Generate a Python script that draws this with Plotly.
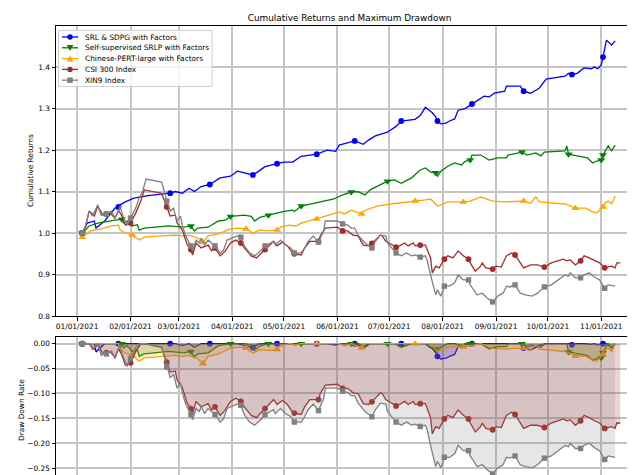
import numpy as np
import pandas as pd
import plotly.graph_objects as go

BASE = pd.Timestamp("2021-01-01")

# ---- data (day offsets from 2021-01-01, cumulative returns) ----
srl_day = [3, 6, 10, 11, 16, 22, 24, 25, 28, 33, 41, 54, 57, 61, 65, 68, 72, 77, 83, 89, 93, 95, 102, 105, 109, 116,
           120, 125, 130, 139, 145, 150, 152, 161, 166, 169, 173, 180, 185, 188, 192, 196, 199, 202, 206, 208, 209,
           211, 214, 216, 219, 221, 225, 229, 232, 236, 239, 242, 248, 249, 257, 259, 263, 268, 272, 283, 285, 287,
           290, 294, 298, 300, 302, 304, 305, 307, 310, 312]
srl_val = [1.0, 1.024, 1.029, 1.012, 1.029, 1.06, 1.063, 1.068, 1.075, 1.084, 1.09, 1.096, 1.10, 1.096, 1.108, 1.10,
           1.112, 1.117, 1.133, 1.137, 1.149, 1.147, 1.14, 1.148, 1.16, 1.167, 1.171, 1.171, 1.185, 1.19, 1.2, 1.197,
           1.212, 1.222, 1.214, 1.224, 1.234, 1.243, 1.257, 1.27, 1.272, 1.274, 1.283, 1.303, 1.29, 1.28, 1.27,
           1.263, 1.265, 1.27, 1.275, 1.296, 1.3, 1.311, 1.32, 1.33, 1.328, 1.337, 1.342, 1.354, 1.354, 1.342,
           1.337, 1.349, 1.371, 1.378, 1.385, 1.382, 1.385, 1.398, 1.396, 1.4, 1.396, 1.405, 1.424, 1.465, 1.453,
           1.463]
srl_mark = [3, 24, 54, 77, 102, 116, 139, 161, 188, 209, 229, 259, 287, 305]

srlp_day = [3, 7, 12, 18, 22, 26, 27, 29, 32, 35, 36, 39, 53, 62, 66, 68, 70, 76, 82, 86, 89, 97, 101, 103, 106, 111,
            116, 120, 125, 126, 130, 138, 142, 149, 153, 159, 163, 167, 170, 174, 180, 184, 188, 194, 199, 202, 205,
            208, 209, 211, 215, 219, 223, 225, 228, 229, 234, 239, 244, 249, 250, 258, 261, 266, 269, 271, 283, 284,
            285, 290, 296, 299, 301, 304, 305, 308, 310, 312]
srlp_val = [1.0, 1.017, 1.024, 1.029, 1.031, 1.033, 1.024, 1.029, 1.017, 1.02, 1.007, 1.012, 1.017, 1.014, 1.017,
            1.005, 1.012, 1.014, 1.029, 1.031, 1.04, 1.043, 1.04, 1.029, 1.038, 1.043, 1.048, 1.052, 1.055, 1.052,
            1.065, 1.072, 1.077, 1.082, 1.09, 1.099, 1.1, 1.092, 1.104, 1.113, 1.125, 1.128, 1.12, 1.133, 1.152,
            1.157, 1.147, 1.145, 1.137, 1.149, 1.161, 1.169, 1.164, 1.173, 1.176, 1.188, 1.188, 1.176, 1.181, 1.181,
            1.188, 1.195, 1.188, 1.193, 1.186, 1.195, 1.198, 1.21, 1.19, 1.186, 1.181, 1.169, 1.173, 1.176, 1.188,
            1.21, 1.198, 1.212]
srlp_mark = [3, 26, 66, 89, 111, 130, 159, 180, 208, 228, 258, 285, 304, 305]

pert_day = [3, 8, 14, 20, 24, 25, 28, 32, 36, 39, 49, 57, 61, 65, 70, 73, 76, 82, 89, 94, 98, 102, 106, 111, 116, 118,
            123, 127, 130, 139, 144, 152, 155, 159, 165, 167, 174, 182, 190, 196, 202, 205, 209, 215, 224, 228, 234,
            241, 248, 254, 259, 263, 266, 268, 277, 283, 289, 295, 298, 301, 303, 305, 306, 308, 310, 312]
pert_val = [0.99, 1.005, 1.01, 1.017, 1.019, 1.007, 1.0, 0.995, 0.983, 0.99, 0.993, 0.995, 0.993, 0.995, 0.988, 0.978,
            0.993, 0.998, 1.01, 1.012, 1.01, 1.0, 1.007, 1.005, 1.007, 1.014, 1.019, 1.017, 1.024, 1.034, 1.041,
            1.051, 1.046, 1.055, 1.046, 1.055, 1.065, 1.07, 1.075, 1.077, 1.08, 1.082, 1.065, 1.075, 1.075, 1.077,
            1.087, 1.077, 1.075, 1.077, 1.077, 1.072, 1.087, 1.075, 1.072, 1.07, 1.06, 1.06, 1.053, 1.048, 1.055,
            1.063, 1.072, 1.077, 1.07, 1.089]
pert_mark = [3, 32, 73, 98, 116, 139, 165, 196, 224, 259, 289, 305]

csi_day = [3, 5, 7, 10, 12, 15, 17, 19, 22, 24, 26, 28, 31, 34, 37, 39, 49, 51, 52, 54, 57, 58, 61, 64, 66, 67, 69, 72,
           76, 78, 80, 83, 86, 89, 92, 95, 97, 101, 104, 107, 109, 114, 116, 119, 122, 125, 126, 130, 132, 135, 140,
           141, 144, 151, 154, 157, 160, 163, 166, 169, 171, 173, 176, 177, 179, 185, 187, 190, 192, 195, 196, 199,
           202, 205, 206, 208, 210, 213, 215, 218, 221, 224, 227, 228, 231, 234, 235, 237, 241, 243, 246, 249, 252,
           254, 257, 259, 263, 267, 271, 275, 282, 284, 286, 289, 292, 294, 297, 300, 303, 306, 310, 312, 313, 315]
csi_val = [1.0, 1.017, 1.053, 1.041, 1.065, 1.043, 1.046, 1.048, 1.036, 1.055, 1.041, 1.019, 1.024, 1.048, 1.077,
           1.104, 1.096, 1.077, 1.063, 1.041, 1.043, 1.024, 1.007, 0.971, 0.96, 0.947, 0.976, 0.964, 0.971, 0.957,
           0.964, 0.945, 0.957, 0.976, 0.983, 0.976, 0.964, 0.945, 0.94, 0.952, 0.96, 0.98, 0.969, 0.978, 0.969,
           0.952, 0.95, 0.947, 0.964, 0.98, 0.98, 0.993, 1.012, 1.014, 1.005, 1.005, 0.995, 0.993, 0.971, 0.969,
           0.975, 0.983, 0.995, 0.993, 0.98, 0.966, 0.969, 0.976, 0.969, 0.976, 0.969, 0.971, 0.971, 0.94, 0.904,
           0.92, 0.916, 0.937, 0.945, 0.94, 0.957, 0.945, 0.937, 0.928, 0.908, 0.92, 0.928, 0.916, 0.913, 0.92,
           0.918, 0.945, 0.952, 0.947, 0.928, 0.916, 0.923, 0.923, 0.918, 0.928, 0.937, 0.933, 0.935, 0.923, 0.933,
           0.945, 0.94, 0.933, 0.928, 0.916, 0.92, 0.916, 0.928, 0.928]
csi_mark = [3, 17, 31, 52, 66, 80, 95, 109, 126, 140, 154, 171, 185, 199, 213, 227, 241, 254, 271, 292, 306]

xin9_day = [3, 5, 7, 9, 12, 14, 16, 17, 20, 22, 24, 25, 26, 28, 29, 31, 34, 36, 38, 40, 49, 51, 52, 54, 56, 57, 58, 60,
            61, 63, 66, 67, 69, 71, 72, 74, 76, 78, 80, 83, 85, 87, 90, 93, 95, 97, 100, 103, 105, 107, 109, 112, 114,
            115, 118, 121, 124, 126, 130, 132, 134, 137, 140, 143, 144, 151, 154, 157, 159, 161, 163, 167, 171, 173,
            176, 179, 180, 185, 188, 191, 194, 196, 199, 202, 203, 205, 208, 209, 211, 213, 216, 219, 221, 224, 227,
            228, 231, 232, 235, 238, 241, 244, 247, 249, 251, 254, 257, 260, 264, 267, 271, 275, 283, 285, 286, 289,
            292, 294, 297, 300, 303, 306, 308, 312]
xin9_val = [1.0, 1.017, 1.053, 1.041, 1.068, 1.043, 1.048, 1.046, 1.053, 1.036, 1.053, 1.065, 1.048, 1.029, 1.019,
            1.036, 1.06, 1.084, 1.1, 1.13, 1.123, 1.096, 1.077, 1.053, 1.06, 1.043, 1.029, 1.041, 1.019, 0.993, 0.969,
            0.957, 0.983, 0.976, 0.988, 0.971, 0.983, 0.976, 0.969, 0.952, 0.959, 0.983, 0.988, 0.993, 0.99, 0.969,
            0.952, 0.945, 0.952, 0.959, 0.969, 0.976, 0.98, 0.971, 0.983, 0.971, 0.964, 0.952, 0.952, 0.964, 0.98,
            0.993, 0.978, 1.005, 1.029, 1.029, 1.022, 1.019, 1.012, 1.012, 0.995, 0.976, 0.964, 0.98, 0.995, 0.993,
            0.976, 0.952, 0.945, 0.952, 0.945, 0.947, 0.942, 0.945, 0.935, 0.899, 0.851, 0.863, 0.848, 0.872, 0.872,
            0.88, 0.899, 0.887, 0.887, 0.875, 0.855, 0.851, 0.855, 0.843, 0.834, 0.848, 0.855, 0.872, 0.87, 0.875,
            0.855, 0.851, 0.848, 0.855, 0.87, 0.875, 0.899, 0.896, 0.904, 0.892, 0.892, 0.899, 0.904, 0.894, 0.887,
            0.867, 0.875, 0.872]
xin9_mark = [3, 17, 31, 52, 66, 80, 95, 109, 126, 140, 154, 171, 185, 199, 213, 227, 241, 254, 271, 292, 306]

month_ticks = ["2021-%02d-01" % m for m in range(1, 12)]
top_ticks = [0.8, 0.9, 1.0, 1.1, 1.2, 1.3, 1.4]
dd_ticks = [0.0, -0.05, -0.10, -0.15, -0.20, -0.25]

series = [
    ("SRL & SDPG with Factors", srl_day, srl_val, srl_mark, (0, 0, 255), "circle", 5.8),
    ("Self-supervised SRLP with Factors", srlp_day, srlp_val, srlp_mark, (0, 128, 0), "triangle-down", 7),
    ("Chinese-PERT-large with Factors", pert_day, pert_val, pert_mark, (255, 165, 0), "triangle-up", 7),
    ("CSI 300 Index", csi_day, csi_val, csi_mark, (165, 42, 42), "circle", 5.8),
    ("XIN9 Index", xin9_day, xin9_val, xin9_mark, (128, 128, 128), "square", 5.4),
]

FONT = "DejaVu Sans"
FS = 7.4
W, H = 635, 475
ML, MR, MT, MB = 48, 0, 18, 2
PW, PH = W - ML - MR, H - MT - MB
LW = 1.3


def pxx(p):  # pixel x -> paper x
    return (p - ML) / PW


def pxy(p):  # pixel y -> paper y
    return (H - MB - p) / PH


fig = go.Figure()

for name, days, vals, marks, rgb, sym, ms in series:
    col = "rgb(%d,%d,%d)" % rgb
    fill = "rgba(%d,%d,%d,0.2)" % rgb
    x = BASE + pd.to_timedelta(days, unit="D")
    v = np.array(vals, dtype=float)
    dd = v / np.maximum.accumulate(v) - 1.0
    idx = [days.index(d) for d in marks]
    xm = x[idx]
    fig.add_trace(go.Scatter(x=x, y=v, mode="lines", line=dict(color=col, width=LW), name=name,
                             showlegend=False, xaxis="x", yaxis="y", hoverinfo="skip"))
    fig.add_trace(go.Scatter(x=xm, y=v[idx], mode="markers", name=name,
                             marker=dict(symbol=sym, size=ms, color=col, line=dict(width=0)),
                             showlegend=False, xaxis="x", yaxis="y", hoverinfo="skip"))
    fig.add_trace(go.Scatter(x=x, y=dd, mode="lines", line=dict(color=col, width=LW), name=name,
                             fill="tozeroy", fillcolor=fill,
                             showlegend=False, xaxis="x2", yaxis="y2", hoverinfo="skip"))
    fig.add_trace(go.Scatter(x=xm, y=dd[idx], mode="markers", name=name,
                             marker=dict(symbol=sym, size=ms, color=col, line=dict(width=0)),
                             showlegend=False, xaxis="x2", yaxis="y2", hoverinfo="skip"))

# ---- legend box (matplotlib style, compact rows) ----
shapes = [dict(type="rect", xref="paper", yref="paper", x0=pxx(50.5), x1=pxx(204), y0=pxy(22.5), y1=pxy(78.5),
               fillcolor="rgba(255,255,255,0.8)", line=dict(color="#d0d0d0", width=1), layer="above")]
annotations = []
for i, (name, _d, _v, _m, rgb, sym, ms) in enumerate(series):
    col = "rgb(%d,%d,%d)" % rgb
    cy = 29 + 10.8 * i
    cx = 62
    shapes.append(dict(type="line", xref="paper", yref="paper", x0=pxx(54), x1=pxx(70), y0=pxy(cy), y1=pxy(cy),
                       line=dict(color=col, width=LW), layer="above"))
    r = 2.7
    if sym == "circle":
        shapes.append(dict(type="circle", xref="paper", yref="paper", x0=pxx(cx - r), x1=pxx(cx + r),
                           y0=pxy(cy + r), y1=pxy(cy - r), fillcolor=col, line=dict(width=0), layer="above"))
    elif sym == "square":
        shapes.append(dict(type="rect", xref="paper", yref="paper", x0=pxx(cx - r), x1=pxx(cx + r),
                           y0=pxy(cy + r), y1=pxy(cy - r), fillcolor=col, line=dict(width=0), layer="above"))
    else:
        s = 1 if sym == "triangle-down" else -1
        pts = [(cx - 3.3, cy - 2.8 * s), (cx + 3.3, cy - 2.8 * s), (cx, cy + 3.3 * s)]
        path = "M %f,%f L %f,%f L %f,%f Z" % tuple(c for p in pts for c in (pxx(p[0]), pxy(p[1])))
        shapes.append(dict(type="path", xref="paper", yref="paper", path=path, fillcolor=col,
                           line=dict(width=0), layer="above"))
    annotations.append(dict(text=name, x=pxx(74.5), y=pxy(cy), xref="paper", yref="paper", showarrow=False,
                            xanchor="left", yanchor="middle", font=dict(family=FONT, size=FS, color="black")))

annotations += [
    dict(text="Cumulative Returns", x=pxx(22), y=pxy(163), xref="paper", yref="paper",
         textangle=-90, showarrow=False, xanchor="center", yanchor="middle",
         font=dict(family=FONT, size=FS, color="black")),
    dict(text="Draw Down Rate", x=pxx(13), y=pxy(402), xref="paper", yref="paper",
         textangle=-90, showarrow=False, xanchor="center", yanchor="middle",
         font=dict(family=FONT, size=FS, color="black")),
]

x_start = BASE + pd.Timedelta(days=-12.2)
x_end = BASE + pd.Timedelta(days=328.2)
GRID = "#c4c4c4"

common_x = dict(type="date", range=[x_start, x_end], tickvals=month_ticks, tickformat="%m/%d/%Y", tickangle=0,
                showgrid=True, gridcolor=GRID, gridwidth=1.5, ticks="outside", ticklen=3.5,
                tickcolor="black", showline=True, linecolor="black", linewidth=1, mirror=True,
                zeroline=False, automargin=False, tickfont=dict(family=FONT, size=FS, color="black"))
common_y = dict(showgrid=True, gridcolor=GRID, gridwidth=1.5, ticks="outside", ticklen=3.5, tickcolor="black",
                showline=True, linecolor="black", linewidth=1, mirror=False, zeroline=False, automargin=False,
                tickfont=dict(family=FONT, size=FS, color="black"))

fig.update_layout(
    template="none",
    width=W, height=H,
    margin=dict(l=ML, r=MR, t=MT, b=MB),
    paper_bgcolor="white", plot_bgcolor="white",
    font=dict(family=FONT, size=FS, color="black"),
    hovermode=False,
    showlegend=False,
    title=dict(text="Cumulative Returns and Maximum Drawdown", x=0.5, xref="paper", xanchor="center",
               y=1 - 10 / H, yref="container", yanchor="middle",
               font=dict(family=FONT, size=8.9, color="black")),
    xaxis=dict(common_x, domain=[0, 1], anchor="y", showticklabels=True),
    xaxis2=dict(common_x, domain=[0, 1], anchor="y2", showticklabels=False, matches="x"),
    yaxis=dict(common_y, domain=[pxy(308), 1], range=[0.8, 1.499], tickvals=top_ticks, tickformat=".1f"),
    yaxis2=dict(common_y, domain=[0, pxy(329)], range=[-0.276, 0.0135], tickvals=dd_ticks, tickformat=".2f"),
    shapes=shapes,
    annotations=annotations,
)

fig.write_html("out.html")
